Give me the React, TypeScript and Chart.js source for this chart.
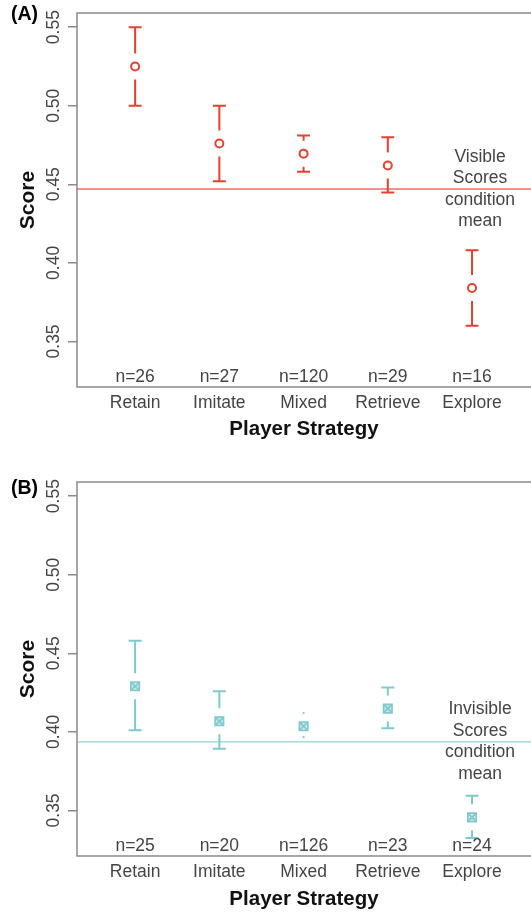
import React, { useEffect, useRef } from "react";
import { Chart, registerables } from "chart.js";

Chart.register(...registerables);

// ---------- data ----------
const categories = ["Retain", "Imitate", "Mixed", "Retrieve", "Explore"];
const yTickValues = [0.35, 0.4, 0.45, 0.5, 0.55];
const Y_MIN = 0.321;
const Y_MAX = 0.559;
const X_MIN = -0.69;
const X_MAX = 4.7;

const visibleMean = [0.525, 0.476, 0.4695, 0.462, 0.384];
const visibleUpper = [0.55, 0.5, 0.481, 0.48, 0.408];
const visibleLower = [0.5, 0.452, 0.458, 0.4447, 0.36];
const visibleN = ["n=26", "n=27", "n=120", "n=29", "n=16"];
const visibleConditionMean = 0.447;
const visibleNote = ["Visible", "Scores", "condition", "mean"];

const invisibleMean = [0.429, 0.4067, 0.4036, 0.4148, 0.3456];
const invisibleUpper = [0.458, 0.4258, 0.412, 0.4283, 0.3593];
const invisibleLower = [0.401, 0.3892, 0.3966, 0.4023, 0.3325];
const invisibleN = ["n=25", "n=20", "n=126", "n=23", "n=24"];
const invisibleConditionMean = 0.3936;
const invisibleNote = ["Invisible", "Scores", "condition", "mean"];

const FONT = '"Liberation Sans", Arial, Helvetica, sans-serif';
const TEXT_GRAY = "#444444";
const AXIS_GRAY = "#8a8a8a";

type Panel = {
  letter: string;
  means: number[];
  uppers: number[];
  lowers: number[];
  nLabels: string[];
  condMean: number;
  note: string[];
  color: string;
  lineColor: string;
  fill: string;
  marker: "circle" | "boxX";
  padTop: number;
  xAxisHeight: number;
  titlePad: number;
  tickPad: number;
  letterY: number;
};

const panelA: Panel = {
  letter: "(A)",
  means: visibleMean,
  uppers: visibleUpper,
  lowers: visibleLower,
  nLabels: visibleN,
  condMean: visibleConditionMean,
  note: visibleNote,
  color: "#e8402f",
  lineColor: "#f06b6b",
  fill: "#ffffff",
  marker: "circle",
  padTop: 13,
  xAxisHeight: 53,
  titlePad: 0,
  tickPad: 5.5,
  letterY: 15,
};

const panelB: Panel = {
  letter: "(B)",
  means: invisibleMean,
  uppers: invisibleUpper,
  lowers: invisibleLower,
  nLabels: invisibleN,
  condMean: invisibleConditionMean,
  note: invisibleNote,
  color: "#7ec9cd",
  lineColor: "#8fd3d5",
  fill: "rgba(126,201,205,0.45)",
  marker: "boxX",
  padTop: 42,
  xAxisHeight: 57,
  titlePad: 3.25,
  tickPad: 6,
  letterY: 49,
};

function makeChart(canvas: HTMLCanvasElement, p: Panel) {
  const GAP = 13;
  const CAP = 6.5;

  const decor = {
    id: "panelDecor",
    afterDatasetsDraw(chart: any) {
      const ctx = chart.ctx as CanvasRenderingContext2D;
      const xs = chart.scales.x;
      const ys = chart.scales.y;
      ctx.save();
      ctx.strokeStyle = p.color;
      ctx.fillStyle = p.color;
      ctx.lineWidth = 2;
      ctx.lineCap = "butt";
      p.means.forEach((m, i) => {
        const x = xs.getPixelForValue(i);
        const ym = ys.getPixelForValue(m);
        [p.uppers[i], p.lowers[i]].forEach((end) => {
          const ye = ys.getPixelForValue(end);
          const dir = ye < ym ? -1 : 1;
          const len = Math.abs(ye - ym);
          if (len <= GAP + 1) {
            ctx.beginPath();
            ctx.arc(x, ye, 1.1, 0, Math.PI * 2);
            ctx.fill();
            return;
          }
          ctx.beginPath();
          ctx.moveTo(x, ym + dir * GAP);
          ctx.lineTo(x, ye);
          ctx.moveTo(x - CAP, ye);
          ctx.lineTo(x + CAP, ye);
          ctx.stroke();
        });
      });
      ctx.restore();
    },
    afterDraw(chart: any) {
      const ctx = chart.ctx as CanvasRenderingContext2D;
      const xs = chart.scales.x;
      const ys = chart.scales.y;
      const area = chart.chartArea;
      ctx.save();
      // box
      ctx.strokeStyle = AXIS_GRAY;
      ctx.lineWidth = 1.5;
      ctx.strokeRect(area.left, area.top, area.right - area.left + 2, area.bottom - area.top);

      // y tick labels (rotated, R style)
      ctx.fillStyle = TEXT_GRAY;
      ctx.font = `17.5px ${FONT}`;
      ctx.textAlign = "center";
      ctx.textBaseline = "middle";
      yTickValues.forEach((v) => {
        const y = ys.getPixelForValue(v);
        ctx.save();
        ctx.translate(54, y);
        ctx.rotate(-Math.PI / 2);
        ctx.fillText(v.toFixed(2), 0, 0);
        ctx.restore();
      });

      // n labels
      p.nLabels.forEach((t, i) => {
        ctx.fillText(t, xs.getPixelForValue(i), area.bottom - 10);
      });

      // condition mean note
      const ny = ys.getPixelForValue(p.condMean);
      const nx = xs.getPixelForValue(categories.length - 1) + 8;
      p.note.forEach((t, k) => {
        ctx.fillText(t, nx, ny + (k - (p.note.length - 1) / 2) * 21.5);
      });

      // panel letter
      ctx.fillStyle = "#000";
      ctx.font = `bold 19.5px ${FONT}`;
      ctx.textAlign = "left";
      ctx.fillText(p.letter, 11, p.letterY);
      ctx.restore();
    },
  };

  const datasets: any[] = [
    {
      type: "line",
      data: [
        { x: X_MIN, y: p.condMean },
        { x: X_MAX, y: p.condMean },
      ],
      borderColor: p.lineColor,
      borderWidth: 1.3,
      pointRadius: 0,
      order: 3,
    },
  ];
  const pts = p.means.map((m, i) => ({ x: i, y: m }));
  if (p.marker === "circle") {
    datasets.push({
      type: "scatter",
      data: pts,
      pointStyle: "circle",
      pointRadius: 4,
      borderColor: p.color,
      backgroundColor: p.fill,
      borderWidth: 2,
      order: 1,
    });
  } else {
    datasets.push({
      type: "scatter",
      data: pts,
      pointStyle: "rect",
      pointRadius: 6,
      borderColor: p.color,
      backgroundColor: p.fill,
      borderWidth: 1.6,
      order: 1,
    });
    datasets.push({
      type: "scatter",
      data: pts,
      pointStyle: "crossRot",
      pointRadius: 6,
      borderColor: p.color,
      borderWidth: 1.6,
      order: 0,
    });
  }

  return new Chart(canvas, {
    type: "scatter",
    data: { datasets },
    plugins: [decor],
    options: {
      responsive: false,
      animation: false,
      events: [],
      layout: {
        autoPadding: false,
        padding: { top: p.padTop, left: 0, right: 0, bottom: 0 },
      },
      plugins: { legend: { display: false }, tooltip: { enabled: false } },
      scales: {
        x: {
          type: "linear",
          min: X_MIN,
          max: X_MAX,
          afterBuildTicks: (s: any) => {
            s.ticks = categories.map((_, i) => ({ value: i }));
          },
          afterFit: (s: any) => {
            s.height = p.xAxisHeight;
          },
          grid: { display: false, drawTicks: false },
          border: { display: false },
          ticks: {
            autoSkip: false,
            maxRotation: 0,
            minRotation: 0,
            padding: p.tickPad,
            color: TEXT_GRAY,
            font: { family: FONT, size: 17.5 },
            callback: (v: any) => categories[Math.round(Number(v))] ?? "",
          },
          title: {
            display: true,
            text: "Player Strategy",
            color: "#111",
            font: { family: FONT, size: 20.5, weight: "bold", lineHeight: 1 },
            padding: { top: 0, bottom: p.titlePad },
          },
        },
        y: {
          type: "linear",
          min: Y_MIN,
          max: Y_MAX,
          afterBuildTicks: (s: any) => {
            s.ticks = yTickValues.map((v) => ({ value: v }));
          },
          afterFit: (s: any) => {
            s.width = 77;
          },
          grid: {
            display: true,
            drawOnChartArea: false,
            drawTicks: true,
            tickLength: 9,
            color: AXIS_GRAY,
            lineWidth: 1.5,
          },
          border: { display: false },
          ticks: { display: false },
          title: {
            display: true,
            text: "Score",
            color: "#111",
            font: { family: FONT, size: 21, weight: "bold", lineHeight: 1 },
            padding: { top: 18, bottom: 0 },
          },
        },
      },
    } as any,
  });
}

export default function App() {
  const topRef = useRef<HTMLCanvasElement>(null);
  const botRef = useRef<HTMLCanvasElement>(null);

  useEffect(() => {
    const c1 = makeChart(topRef.current!, panelA);
    const c2 = makeChart(botRef.current!, panelB);
    return () => {
      c1.destroy();
      c2.destroy();
    };
  }, []);

  return (
    <div
      style={{
        position: "absolute",
        left: 0,
        top: 0,
        width: 531,
        height: 913,
        background: "#ffffff",
        overflow: "hidden",
      }}
    >
      <canvas
        ref={topRef}
        width={531}
        height={440}
        style={{ position: "absolute", left: 0, top: 0, width: 531, height: 440 }}
      />
      <canvas
        ref={botRef}
        width={531}
        height={473}
        style={{ position: "absolute", left: 0, top: 440, width: 531, height: 473 }}
      />
    </div>
  );
}
